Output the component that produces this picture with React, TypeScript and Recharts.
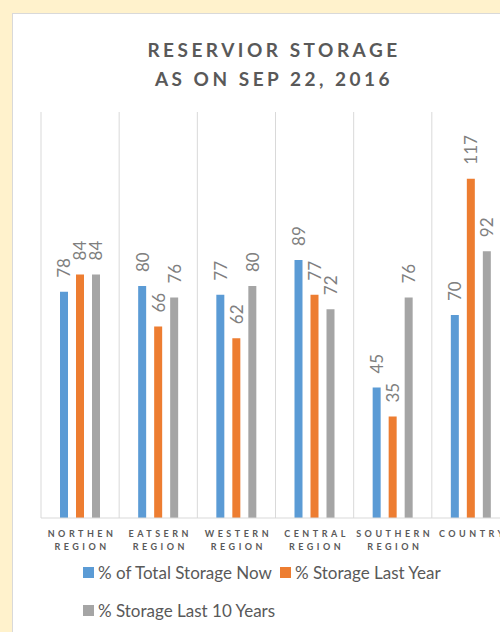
import React from 'react';
import { BarChart, Bar, XAxis, YAxis, CartesianGrid, Legend, LabelList } from 'recharts';

// Reservoir storage by region, Sep 22 2016
const regions = ['NORTHEN REGION', 'EATSERN REGION', 'WESTERN REGION', 'CENTRAL REGION', 'SOUTHERN REGION', 'COUNTRY'];
const storageNow = [78, 80, 77, 89, 45, 70];
const storageLastYear = [84, 66, 62, 77, 35, 117];
const storageLast10Years = [84, 76, 80, 72, 76, 92];

const seriesNames = ['% of Total Storage Now', '% Storage Last Year', '% Storage Last 10 Years'];
const seriesColors = ['#5B9BD5', '#ED7D31', '#A5A5A5'];

const data = regions.map((name, i) => ({
  name,
  now: storageNow[i],
  lastYear: storageLastYear[i],
  last10: storageLast10Years[i],
}));

const FONT = 'Lato, "Open Sans", sans-serif';
const TEXT = '#595959';

const RegionTick = (props: any) => {
  const { x, y, payload } = props;
  const lines = String(payload.value).split(' ');
  return (
    <g>
      {lines.map((line: string, i: number) => (
        <text
          key={i}
          x={x + 2}
          y={y + 7 + i * 13}
          textAnchor="middle"
          dominantBaseline="central"
          fill={TEXT}
          fontFamily={FONT}
          fontSize={9}
          fontWeight="bold"
          style={{ letterSpacing: '3.5px' }}
        >
          {line}
        </text>
      ))}
    </g>
  );
};

const RotatedLabel = (props: any) => {
  const { x, y, width, value } = props;
  const cx = x + width / 2;
  const cy = y - 14;
  return (
    <text
      x={cx}
      y={cy}
      transform={`rotate(-90, ${cx}, ${cy})`}
      textAnchor="start"
      dominantBaseline="central"
      fill="#7F7F7F"
      fontFamily={FONT}
      fontSize={17}
    >
      {value}
    </text>
  );
};

const LegendBox = (props: any) => {
  const items = [...(props.payload || [])].sort(
    (a: any, b: any) => seriesNames.indexOf(a.value) - seriesNames.indexOf(b.value)
  );
  const renderItem = (item: any, i: number) => (
    <span key={i} style={{ display: 'inline-flex', alignItems: 'center', marginRight: 8 }}>
      <span style={{ width: 11, height: 11, background: item.color, display: 'inline-block', marginRight: 4 }} />
      <span>{item.value}</span>
    </span>
  );
  return (
    <div style={{ paddingLeft: 70, fontFamily: FONT, fontSize: 17, color: TEXT }}>
      <div style={{ height: 28, whiteSpace: 'nowrap', display: 'flex', alignItems: 'center' }}>
        {items.slice(0, 2).map(renderItem)}
      </div>
      <div style={{ height: 28, marginTop: 10, whiteSpace: 'nowrap', display: 'flex', alignItems: 'center' }}>
        {items.slice(2).map(renderItem)}
      </div>
    </div>
  );
};

export default function App() {
  return (
    <div style={{ position: 'absolute', left: 0, top: 0, width: 500, height: 632, overflow: 'hidden', background: '#FFF2CC' }}>
      <div style={{ position: 'absolute', left: 12, top: 13, width: 522, height: 626, background: '#fff', border: '1px solid #D9D9D9' }}>
        <div
          style={{
            position: 'absolute', left: 0, top: 21, width: 522, textAlign: 'center',
            fontFamily: FONT, fontWeight: 'bold', fontSize: 19, lineHeight: '29px',
            letterSpacing: '3.5px', color: TEXT,
          }}
        >
          RESERVIOR STORAGE<br />AS ON SEP 22, 2016
        </div>
        <BarChart
          width={522}
          height={626}
          data={data}
          margin={{ top: 98, right: 25, left: 28, bottom: 2 }}
          barSize={8}
          barGap={8}
        >
          <CartesianGrid
            horizontal={false}
            stroke="#D9D9D9"
            verticalCoordinatesGenerator={({ offset }: any) =>
              Array.from({ length: regions.length + 1 }, (_, i) => offset.left + (i * offset.width) / regions.length)
            }
          />
          <XAxis
            dataKey="name"
            interval={0}
            tickLine={false}
            axisLine={{ stroke: '#D9D9D9' }}
            height={40}
            tick={<RegionTick />}
          />
          <YAxis hide domain={[0, 140]} />
          <Legend
            verticalAlign="bottom"
            wrapperStyle={{ left: 0, width: 522, height: 80 }}
            content={<LegendBox />}
          />
          <Bar dataKey="now" name={seriesNames[0]} fill={seriesColors[0]} isAnimationActive={false}>
            <LabelList dataKey="now" content={<RotatedLabel />} />
          </Bar>
          <Bar dataKey="lastYear" name={seriesNames[1]} fill={seriesColors[1]} isAnimationActive={false}>
            <LabelList dataKey="lastYear" content={<RotatedLabel />} />
          </Bar>
          <Bar dataKey="last10" name={seriesNames[2]} fill={seriesColors[2]} isAnimationActive={false}>
            <LabelList dataKey="last10" content={<RotatedLabel />} />
          </Bar>
        </BarChart>
      </div>
    </div>
  );
}
